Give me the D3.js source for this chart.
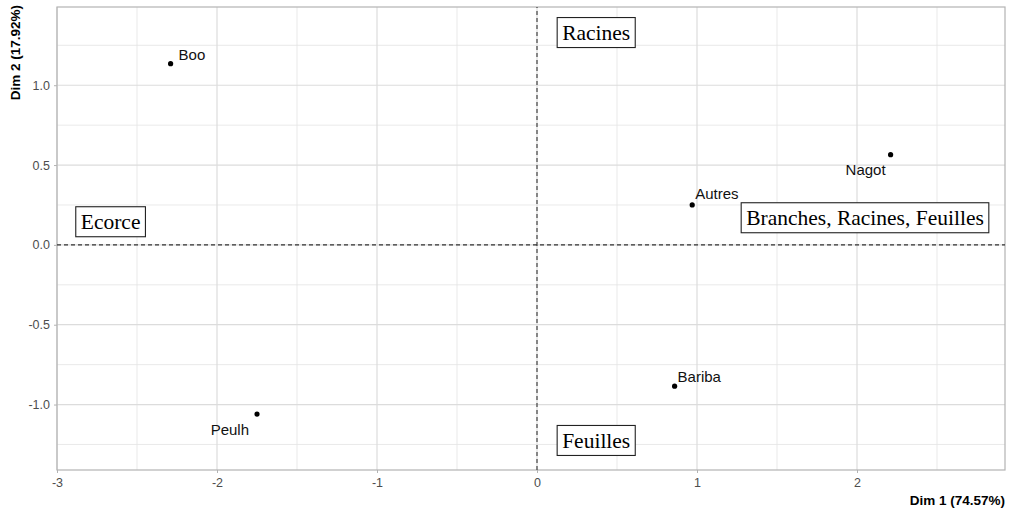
<!DOCTYPE html>
<html>
<head>
<meta charset="utf-8">
<script src="https://cdn.jsdelivr.net/npm/d3@7"></script>
<style>
  body { margin: 0; background: #fff; }
  svg { display: block; }
</style>
</head>
<body>
<svg id="chart" width="1009" height="515"></svg>
<script>
// Individuals (row points)
const rowNames = ["Boo", "Peulh", "Autres", "Nagot", "Bariba"];
const rowDim1 = [-2.29, -1.75, 0.97, 2.21, 0.86];
const rowDim2 = [1.135, -1.06, 0.25, 0.565, -0.885];
// Label offsets (px) relative to each point, and text anchoring
const rowLabelDx = [8, -8, 3, -5, 3];
const rowLabelDy = [-4, 21, -6, 20, -4];
const rowLabelAnchor = ["start", "end", "start", "end", "start"];

// Variables (column categories), drawn as boxed labels
const colNames = ["Racines", "Ecorce", "Branches, Racines, Feuilles", "Feuilles"];
const colDim1 = [0.37, -2.665, 2.05, 0.37];
const colDim2 = [1.33, 0.145, 0.17, -1.225];

const xTicks = [-3, -2, -1, 0, 1, 2];
const yTicks = [-1.0, -0.5, 0.0, 0.5, 1.0];
const xTitle = "Dim 1 (74.57%)";
const yTitle = "Dim 2 (17.92%)";

const svg = d3.select("#chart");
const margin = { left: 57, right: 4, top: 7, bottom: 45 };
const W = 1009, H = 515;
const x = d3.scaleLinear().domain([-3.0, 2.925]).range([margin.left, W - margin.right]);
const y = d3.scaleLinear().domain([-1.41, 1.49]).range([H - margin.bottom, margin.top]);

const g = svg.append("g");

// minor grid
const xMinor = d3.range(-2.5, 3, 1);
const yMinor = d3.range(-1.25, 1.5, 0.5);
g.selectAll(".xminor").data(xMinor).join("line")
  .attr("x1", d => x(d)).attr("x2", d => x(d))
  .attr("y1", y.range()[0]).attr("y2", y.range()[1])
  .attr("stroke", "#e3e3e3").attr("stroke-width", 0.8);
g.selectAll(".yminor").data(yMinor).join("line")
  .attr("y1", d => y(d)).attr("y2", d => y(d))
  .attr("x1", x.range()[0]).attr("x2", x.range()[1])
  .attr("stroke", "#e3e3e3").attr("stroke-width", 0.8);
// major grid
g.selectAll(".xmajor").data(xTicks).join("line")
  .attr("x1", d => x(d)).attr("x2", d => x(d))
  .attr("y1", y.range()[0]).attr("y2", y.range()[1])
  .attr("stroke", "#dcdcdc").attr("stroke-width", 1.2);
g.selectAll(".ymajor").data(yTicks).join("line")
  .attr("y1", d => y(d)).attr("y2", d => y(d))
  .attr("x1", x.range()[0]).attr("x2", x.range()[1])
  .attr("stroke", "#dcdcdc").attr("stroke-width", 1.2);

// axes
const xAxis = d3.axisBottom(x).tickValues(xTicks).tickSize(3).tickPadding(5)
  .tickFormat(d => String(d));
const yAxis = d3.axisLeft(y).tickValues(yTicks).tickSize(3).tickPadding(4)
  .tickFormat(d => d.toFixed(1).replace("\u2212", "-"));
const gx = svg.append("g").attr("transform", `translate(0,${y.range()[0]})`).call(xAxis);
const gy = svg.append("g").attr("transform", `translate(${x.range()[0]},0)`).call(yAxis);
[gx, gy].forEach(a => {
  a.select(".domain").remove();
  a.selectAll(".tick line").attr("stroke", "#b3b3b3");
  a.selectAll(".tick text").attr("fill", "#4d4d4d")
    .style("font-family", "Liberation Sans, Arial, sans-serif").style("font-size", "12.5px");
});

// panel border
svg.append("rect")
  .attr("x", x.range()[0]).attr("y", y.range()[1])
  .attr("width", x.range()[1] - x.range()[0]).attr("height", y.range()[0] - y.range()[1])
  .attr("fill", "none").attr("stroke", "#b3b3b3").attr("stroke-width", 1.2);

// origin lines
svg.append("line").attr("x1", x(0)).attr("x2", x(0))
  .attr("y1", y.range()[0]).attr("y2", y.range()[1])
  .attr("stroke", "#333").attr("stroke-dasharray", "4,3").attr("stroke-width", 1.1);
svg.append("line").attr("y1", y(0)).attr("y2", y(0))
  .attr("x1", x.range()[0]).attr("x2", x.range()[1])
  .attr("stroke", "#333").attr("stroke-dasharray", "4,3").attr("stroke-width", 1.1);

// row points and labels
const rows = rowNames.map((n, i) => ({ n, x: rowDim1[i], y: rowDim2[i], dx: rowLabelDx[i], dy: rowLabelDy[i], a: rowLabelAnchor[i] }));
svg.selectAll(".pt").data(rows).join("circle")
  .attr("cx", d => x(d.x)).attr("cy", d => y(d.y)).attr("r", 2.6).attr("fill", "#000");
svg.selectAll(".lbl").data(rows).join("text")
  .attr("x", d => x(d.x) + d.dx).attr("y", d => y(d.y) + d.dy)
  .attr("text-anchor", d => d.a)
  .style("font-family", "Liberation Sans, Arial, sans-serif").style("font-size", "15px")
  .attr("fill", "#111").text(d => d.n);

// boxed column labels
const cols = colNames.map((n, i) => ({ n, x: colDim1[i], y: colDim2[i] }));
const cg = svg.selectAll(".col").data(cols).join("g")
  .attr("transform", d => `translate(${x(d.x)},${y(d.y)})`);
cg.append("text")
  .attr("text-anchor", "middle").attr("dy", "0.35em")
  .style("font-family", "Liberation Serif, Times New Roman, serif").style("font-size", "21.5px")
  .attr("fill", "#000").text(d => d.n);
cg.each(function () {
  const t = d3.select(this).select("text").node().getBBox();
  d3.select(this).insert("rect", "text")
    .attr("x", t.x - 5).attr("y", -15).attr("width", t.width + 10).attr("height", 30)
    .attr("fill", "#fff").attr("stroke", "#222").attr("stroke-width", 1.1);
});

// axis titles
svg.append("text").attr("x", x.range()[1]).attr("y", 505)
  .attr("text-anchor", "end")
  .style("font-family", "Liberation Sans, Arial, sans-serif").style("font-size", "13.5px").style("font-weight", "bold")
  .text(xTitle);
svg.append("text").attr("transform", `translate(20,${y.range()[1] - 2}) rotate(-90)`)
  .attr("text-anchor", "end")
  .style("font-family", "Liberation Sans, Arial, sans-serif").style("font-size", "13.5px").style("font-weight", "bold")
  .text(yTitle);
</script>
</body>
</html>
